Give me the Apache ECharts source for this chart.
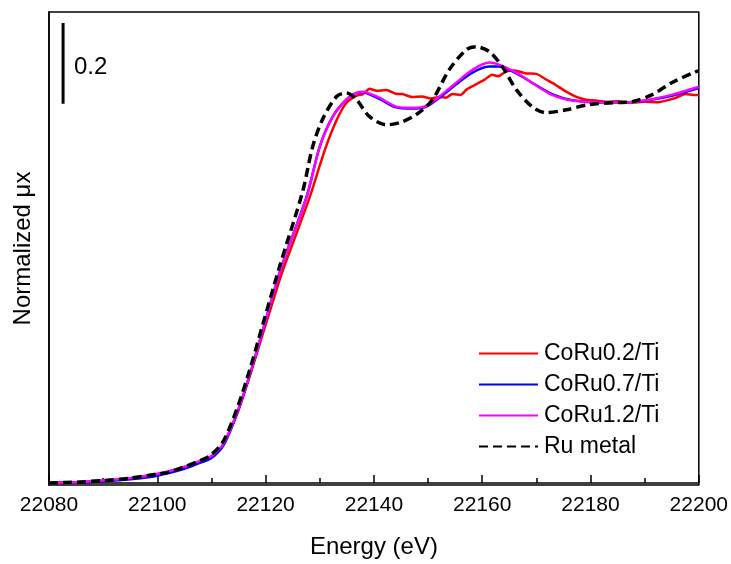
<!DOCTYPE html>
<html>
<head>
<meta charset="utf-8">
<script src="https://cdn.jsdelivr.net/npm/echarts@6/dist/echarts.min.js"></script>
<style>html,body{margin:0;padding:0;background:#fff}#c{width:731px;height:564px}</style>
</head>
<body>
<div id="c"></div>
<script>
// ---- data ----
const xTicks = [22080, 22100, 22120, 22140, 22160, 22180, 22200];

const redE = [22080, 22085, 22090, 22095, 22100, 22105, 22108, 22110, 22112, 22114.7, 22117.1, 22119.4, 22122.9, 22125.5, 22128.1, 22130.9, 22133.1, 22134.9, 22136.8, 22138, 22139.2, 22140.5, 22142.3, 22144, 22145.3, 22147, 22148.9, 22150.5, 22152.1, 22153.3, 22154.5, 22156, 22157.1, 22158.3, 22159.4, 22160.5, 22161.8, 22163, 22164.4, 22166, 22168.1, 22170, 22171.8, 22173.5, 22175.5, 22177.4, 22179.2, 22181, 22182.9, 22185, 22187.6, 22190, 22192.6, 22194.3, 22195.8, 22197.6, 22199, 22200];
const redV = [0.000, 0.002, 0.006, 0.012, 0.022, 0.038, 0.051, 0.064, 0.092, 0.170, 0.265, 0.365, 0.515, 0.610, 0.705, 0.822, 0.897, 0.940, 0.958, 0.962, 0.975, 0.970, 0.972, 0.963, 0.962, 0.955, 0.956, 0.951, 0.955, 0.953, 0.962, 0.960, 0.973, 0.982, 0.990, 0.998, 1.010, 1.006, 1.018, 1.020, 1.013, 1.012, 0.998, 0.985, 0.968, 0.955, 0.948, 0.946, 0.943, 0.944, 0.941, 0.943, 0.942, 0.947, 0.953, 0.962, 0.960, 0.960];

const mixE = [22080, 22085, 22090, 22095, 22100, 22105, 22107.5, 22110, 22112.3, 22114.9, 22117.3, 22119.6, 22122.9, 22127.6, 22130.0, 22132.4, 22134.9, 22136.8, 22137.9, 22141.0, 22144.1, 22147.1, 22149.7, 22152.1, 22155.2, 22158.2, 22161.3, 22163.1, 22166.3, 22169.2, 22172.9, 22176.6, 22181.6, 22186.5, 22190.8, 22195.0, 22200];
const blueV = [0.000, 0.001, 0.004, 0.009, 0.018, 0.035, 0.048, 0.062, 0.095, 0.178, 0.277, 0.383, 0.533, 0.709, 0.832, 0.906, 0.948, 0.965, 0.966, 0.950, 0.929, 0.926, 0.931, 0.953, 0.986, 1.015, 1.030, 1.030, 1.013, 0.990, 0.962, 0.947, 0.941, 0.941, 0.947, 0.958, 0.977];
const magentaV = [0.000, 0.002, 0.006, 0.012, 0.022, 0.040, 0.053, 0.067, 0.099, 0.180, 0.277, 0.383, 0.533, 0.709, 0.832, 0.906, 0.948, 0.965, 0.968, 0.953, 0.931, 0.928, 0.933, 0.956, 0.990, 1.022, 1.040, 1.035, 1.015, 0.990, 0.960, 0.946, 0.941, 0.941, 0.948, 0.960, 0.980];

const ruE = [22080, 22085, 22090, 22095, 22100, 22102.3, 22105, 22107.5, 22109.7, 22112.1, 22114.7, 22117.1, 22119.4, 22122.6, 22126.8, 22128.7, 22130.5, 22133.1, 22134.9, 22136.8, 22139.2, 22142.3, 22144.7, 22147.8, 22150.8, 22153.9, 22157.1, 22158.9, 22161.3, 22163.7, 22166.3, 22169.2, 22171.8, 22175.5, 22179.7, 22184.7, 22187.6, 22191.3, 22195.0, 22199.4, 22200];
const ruV = [0.000, 0.002, 0.006, 0.012, 0.022, 0.027, 0.040, 0.053, 0.067, 0.101, 0.183, 0.281, 0.388, 0.536, 0.719, 0.832, 0.899, 0.956, 0.965, 0.948, 0.906, 0.886, 0.891, 0.911, 0.948, 1.022, 1.072, 1.079, 1.067, 1.030, 0.973, 0.931, 0.916, 0.923, 0.936, 0.941, 0.943, 0.960, 0.990, 1.017, 1.019];

const scaleBarE = [22082.6, 22082.6];
const scaleBarV = [1.138, 0.938];
const scaleBarText = '0.2';

const names = ['CoRu0.2/Ti', 'CoRu0.7/Ti', 'CoRu1.2/Ti', 'Ru metal'];
// ---- chart ----
const zip = (a, b) => a.map((x, i) => [x, b[i]]);
const FONT = 'Liberation Sans, Arial, sans-serif';
const chart = echarts.init(document.getElementById('c'), null, {renderer: 'canvas'});
chart.setOption({
  animation: false,
  backgroundColor: '#fff',
  grid: {left: 49, right: 31, top: 12, bottom: 78, show: true, borderColor: '#000', borderWidth: 1.5, backgroundColor: 'transparent'},
  xAxis: {
    type: 'value', min: xTicks[0], max: xTicks[xTicks.length - 1], interval: 20,
    name: 'Energy (eV)', nameLocation: 'middle', nameGap: 50,
    nameTextStyle: {fontFamily: FONT, fontSize: 24, color: '#000'},
    axisLine: {show: true, lineStyle: {color: '#000', width: 1.5}},
    axisTick: {show: true, inside: true, length: 8, lineStyle: {color: '#000', width: 1.5}},
    minorTick: {show: true, splitNumber: 2, length: 5, lineStyle: {color: '#000', width: 1.5}},
    axisLabel: {fontFamily: FONT, fontSize: 21, color: '#000', margin: 10, formatter: v => String(v)},
    splitLine: {show: false}
  },
  yAxis: {
    type: 'value', min: -0.005, max: 1.165,
    name: 'Normalized μx', nameLocation: 'middle', nameGap: 14,
    nameTextStyle: {fontFamily: FONT, fontSize: 24, color: '#000'},
    axisLine: {show: true, lineStyle: {color: '#000', width: 1.5}},
    axisTick: {show: false}, axisLabel: {show: false}, splitLine: {show: false}
  },
  legend: {
    data: names, orient: 'vertical', left: 473, top: 337,
    itemWidth: 59, itemHeight: 14, itemGap: 8,
    itemStyle: {opacity: 0},
    textStyle: {fontFamily: FONT, fontSize: 23, color: '#000', padding: [0,0,0,1]}
  },
  graphic: [
    {type: 'text', left: 74, top: 55, style: {text: scaleBarText, font: '24px ' + FONT, fill: '#000'}}
  ],
  series: [
    {name: names[0], type: 'line', data: zip(redE, redV), symbol: 'none', smooth: 0.2, lineStyle: {color: '#ff0000', width: 2.5}, itemStyle: {color: '#ff0000'}, z: 2},
    {name: names[1], type: 'line', data: zip(mixE, blueV), symbol: 'none', smooth: 0.3, lineStyle: {color: '#0000ff', width: 2.5}, itemStyle: {color: '#0000ff'}, z: 3},
    {name: names[2], type: 'line', data: zip(mixE, magentaV), symbol: 'none', smooth: 0.3, lineStyle: {color: '#ff00ff', width: 2.5}, itemStyle: {color: '#ff00ff'}, z: 4},
    {name: names[3], type: 'line', data: zip(ruE, ruV), symbol: 'none', smooth: 0.3, lineStyle: {color: '#000', width: 3.5, type: [9, 5]}, itemStyle: {color: '#000'}, z: 5},
    {name: 'scalebar', type: 'line', data: zip(scaleBarE, scaleBarV), symbol: 'none', lineStyle: {color: '#000', width: 3}, z: 6, silent: true}
  ]
});
</script>
</body>
</html>
